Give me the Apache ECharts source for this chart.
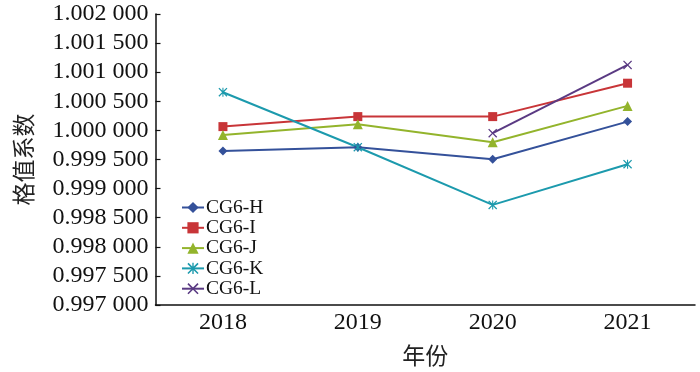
<!DOCTYPE html>
<html>
<head>
<meta charset="utf-8">
<script src="https://cdn.jsdelivr.net/npm/echarts@6/dist/echarts.min.js"></script>
<style>
  html, body { margin: 0; padding: 0; background: #fff; }
  #chart { width: 700px; height: 372px; }
</style>
</head>
<body>
<div id="chart"></div>
<script>
const years = ["2018", "2019", "2020", "2021"];
const cg6H = [0.999648, 0.999711, 0.999505, 1.000151];
const cg6I = [1.000065, 1.000237, 1.000237, 1.000811];
const cg6J = [0.999923, 1.000107, 0.999797, 1.000421];
const cg6K = [1.000656, 0.999711, 0.998720, 0.999419];
const cg6L = [null, null, 0.999952, 1.001125];

const serif = "'Liberation Serif', 'Times New Roman', serif";
const cjk = "'Noto Sans CJK SC', sans-serif";

// x and asterisk markers
const crossPath = "path://M0,1 L1,0 L5,4 L9,0 L10,1 L6,5 L10,9 L9,10 L5,6 L1,10 L0,9 L4,5 Z";
const starPath = "path://M0,1 L1,0 L5,4 L9,0 L10,1 L6,5 L10,9 L9,10 L5,6 L1,10 L0,9 L4,5 Z M4.4,0 L5.6,0 L5.6,10 L4.4,10 Z";

const chart = echarts.init(document.getElementById("chart"));

function makeSeries(name, data, color, symbol, size) {
  return {
    name: name,
    type: "line",
    data: data,
    symbol: symbol,
    symbolSize: size,
    showSymbol: true,
    connectNulls: false,
    lineStyle: { color: color, width: 2 },
    itemStyle: { color: color },
    emphasis: { disabled: true }
  };
}

const option = {
  backgroundColor: "#fff",
  animation: false,
  grid: { left: 155.5, right: 5, top: 14, bottom: 67 },
  legend: {
    orient: "vertical",
    left: 176,
    top: 192.5,
    itemWidth: 22,
    itemHeight: 14,
    itemGap: 0.3,
    textStyle: { fontFamily: serif, fontSize: 19.5, color: "#111", lineHeight: 20, padding: [0, 0, 0, -3] },
    data: ["CG6-H", "CG6-I", "CG6-J", "CG6-K", "CG6-L"]
  },
  xAxis: {
    type: "category",
    data: years,
    boundaryGap: true,
    name: "年份",
    nameLocation: "middle",
    nameGap: 39,
    nameTextStyle: { fontFamily: cjk, fontSize: 23, color: "#222" },
    axisLine: { lineStyle: { color: "#111", width: 1.5 } },
    axisTick: { inside: true, length: 5, alignWithLabel: true, lineStyle: { color: "#111", width: 1.2 } },
    axisLabel: { fontFamily: serif, fontSize: 24, color: "#111", margin: 6 },
    splitLine: { show: false }
  },
  yAxis: {
    type: "value",
    min: 0.997,
    max: 1.002,
    interval: 0.0005,
    name: "格值系数",
    nameLocation: "middle",
    nameGap: 121,
    nameTextStyle: { fontFamily: cjk, fontSize: 23, color: "#222" },
    axisLine: { show: true, lineStyle: { color: "#111", width: 1.5 } },
    axisTick: { show: true, inside: true, length: 5, lineStyle: { color: "#111", width: 1.2 } },
    axisLabel: {
      fontFamily: serif,
      fontSize: 24,
      color: "#111",
      margin: 7,
      formatter: function (v) {
        const s = v.toFixed(6);
        return s.slice(0, 5) + " " + s.slice(5);
      }
    },
    splitLine: { show: false }
  },
  series: [
    makeSeries("CG6-H", cg6H, "#34519a", "diamond", 9),
    makeSeries("CG6-I", cg6I, "#c83538", "rect", 9),
    makeSeries("CG6-J", cg6J, "#93b42c", "triangle", 10),
    makeSeries("CG6-K", cg6K, "#1c9aad", starPath, 9),
    makeSeries("CG6-L", cg6L, "#5a3a83", crossPath, 9)
  ]
};

chart.setOption(option);
</script>
</body>
</html>
